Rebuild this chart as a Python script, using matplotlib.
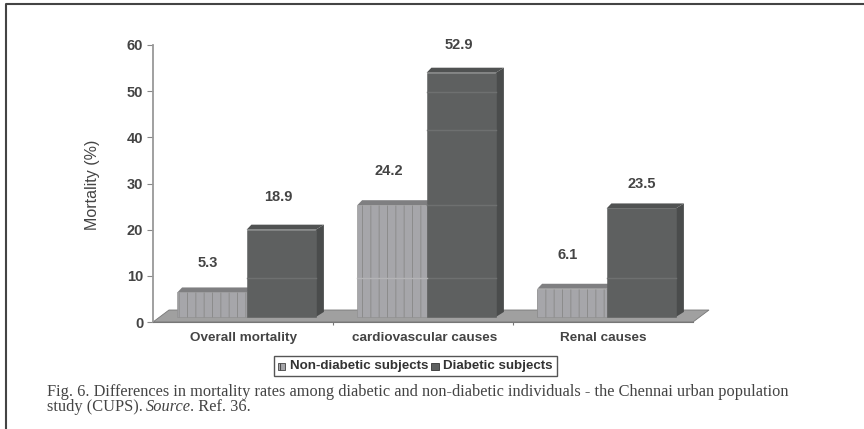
import matplotlib
matplotlib.use('Agg')
import matplotlib.pyplot as plt
from matplotlib.patches import Polygon, Rectangle

categories = ['Overall mortality', 'cardiovascular causes', 'Renal causes']
non_diabetic = [5.3, 24.2, 6.1]
diabetic = [18.9, 52.9, 23.5]
non_labels = ['5.3', '24.2', '6.1']
dia_labels = ['18.9', '52.9', '23.5']
series_names = ['Non-diabetic subjects', 'Diabetic subjects']
yticks = [0, 10, 20, 30, 40, 50, 60]

W, H = 864, 429
LIGHT = '#a6a6aa'
LIGHT_TOP = '#7f7f81'
DARK = '#5e6060'
DARK_SIDE = '#4a4c4c'
DARK_TOP = '#505252'
FLOOR = '#a0a0a0'
TEXT = '#444444'

plt.rcParams['font.family'] = ['Liberation Sans', 'DejaVu Sans']
plt.rcParams['hatch.linewidth'] = 0.7

fig = plt.figure(figsize=(W / 100, H / 100), dpi=100, facecolor='white')

# frame around the scanned page, only top and left are dark
page = fig.add_axes([0, 0, 1, 1], zorder=0)
page.set_xlim(0, W)
page.set_ylim(H, 0)
page.axis('off')
page.plot([5.5, 5.5, 864], [H, 4, 4], color='#444444', lw=1.5)

# y axis: 0 at pixel 322, 60 at pixel 45. x: one category = 180 px
left, right, top, bottom = 153, 693, 45, 322
ax = fig.add_axes([left / W, 1 - bottom / H, (right - left) / W, (bottom - top) / H], zorder=1)
ax.patch.set_alpha(0)
ax.set_xlim(-0.5, 2.5)
ax.set_ylim(0, 60)

px_y = 60 / (bottom - top)
px_x = 3 / (right - left)
dy = 5 * px_y      # depth of the 3d look
dx = 8 * px_x
base = 1.1
width = 0.385
floor_dx = 16 * px_x
floor_dy = 12 * px_y

ax.add_patch(Polygon([(-0.5, 0), (-0.5 + floor_dx, floor_dy), (2.5 + floor_dx, floor_dy), (2.5, 0)],
                     closed=True, fc=FLOOR, ec='#777777', lw=0.6, clip_on=False, zorder=1))


def draw_bars(xs, values, face, side, top_c, hatch=None):
    ax.bar(xs, values, width=width, bottom=base, color=face, edgecolor='#8c8c8c' if hatch else face,
           hatch=hatch, lw=0.4, zorder=3, clip_on=False)
    for x, v in zip(xs, values):
        l, r, t = x - width / 2, x + width / 2, base + v
        ax.add_patch(Polygon([(r, base), (r + dx, base + dy), (r + dx, t + dy), (r, t)],
                             closed=True, fc=side, ec='none', zorder=2, clip_on=False))
        ax.add_patch(Polygon([(l, t), (l + dx * 0.6, t + dy), (r + dx, t + dy), (r, t)],
                             closed=True, fc=top_c, ec='none', zorder=2, clip_on=False))


offset = width / 2
xs = list(range(len(categories)))
draw_bars([x - offset + 0.02 for x in xs], non_diabetic, LIGHT, '#8a8a8c', LIGHT_TOP, hatch='||')
draw_bars([x + offset + 0.02 for x in xs], diabetic, DARK, DARK_SIDE, DARK_TOP)

# faint gridlines that show through the bars in the scan
for x, v in zip(xs, diabetic):
    for g in [9.5, 25.3, 41.6, 49.8]:
        if g < v:
            ax.plot([x + 0.02, x + 0.02 + width], [g, g], color='#6e7070', lw=1.0, zorder=4)
ax.plot([1 - width + 0.02, 1 + 0.02], [9.5, 9.5], color='#b4b4b6', lw=1.0, zorder=4)

# gap between bar top and value label, read per label
non_gaps = [6.3, 7.4, 7.35]
dia_gaps = [7.0, 6.1, 5.2]
non_nudge = [-0.005, 0.003, -0.002]
dia_nudge = [0.001, 0.005, 0.022]
for x, v, s, g, n in zip(xs, non_diabetic, non_labels, non_gaps, non_nudge):
    ax.text(x - offset + n, base + v + g, s, ha='center', va='center', fontsize=10.5,
            fontweight='bold', color=TEXT, zorder=5)
for x, v, s, g, n in zip(xs, diabetic, dia_labels, dia_gaps, dia_nudge):
    ax.text(x + offset + n, base + v + g, s, ha='center', va='center', fontsize=10.5,
            fontweight='bold', color=TEXT, zorder=5, clip_on=False)

for s in ['top', 'right']:
    ax.spines[s].set_visible(False)
ax.spines['left'].set_color('#999999')
ax.spines['left'].set_linewidth(1.3)
ax.spines['bottom'].set_color('#777777')
ax.set_yticks(yticks)
ax.tick_params(axis='y', length=4, color='#888888', labelsize=10.5, labelcolor=TEXT, pad=3)
ax.set_yticklabels([str(t) for t in yticks], fontweight='bold')
ax.set_xticks([0.5, 1.5])
ax.set_xticklabels([])
ax.tick_params(axis='x', length=2, color='#777777')
ax.set_ylabel('Mortality (%)', fontsize=11.5, color=TEXT)
ax.yaxis.set_label_coords((100 - left) / (right - left), 0.495)

page.text(243, 338, categories[0], ha='center', va='center', fontsize=9.7, fontweight='bold', color=TEXT)
page.text(425, 338, categories[1], ha='center', va='center', fontsize=9.7, fontweight='bold', color=TEXT)
page.text(603, 338, categories[2], ha='center', va='center', fontsize=9.7, fontweight='bold', color=TEXT)

# legend box
page.add_patch(Rectangle((274, 356), 283, 20, fc='white', ec='#555555', lw=1.0))
page.add_patch(Rectangle((278, 363), 7, 7, fc=LIGHT, ec='#444444', lw=0.6, hatch='|||'))
page.text(290, 366.5, series_names[0], ha='left', va='center', fontsize=9.6, fontweight='bold', color='#333333')
page.add_patch(Rectangle((431, 363), 8, 7, fc=DARK, ec='#333333', lw=0.6))
page.text(443, 366.5, series_names[1], ha='left', va='center', fontsize=9.6, fontweight='bold', color='#333333')

cap = dict(ha='left', va='center', fontsize=11.8, family='Liberation Serif', color='#444444')
caption1 = ('Fig. 6. Differences in mortality rates among diabetic and non-diabetic individuals'
            ' - the Chennai urban population')
page.text(47, 392, caption1, **cap)
page.text(47, 407, 'study (CUPS).', **cap)
page.text(146, 407, 'Source', style='italic', **cap)
page.text(190, 407, '. Ref. 36.', **cap)

fig.savefig('out.png', dpi=100)
